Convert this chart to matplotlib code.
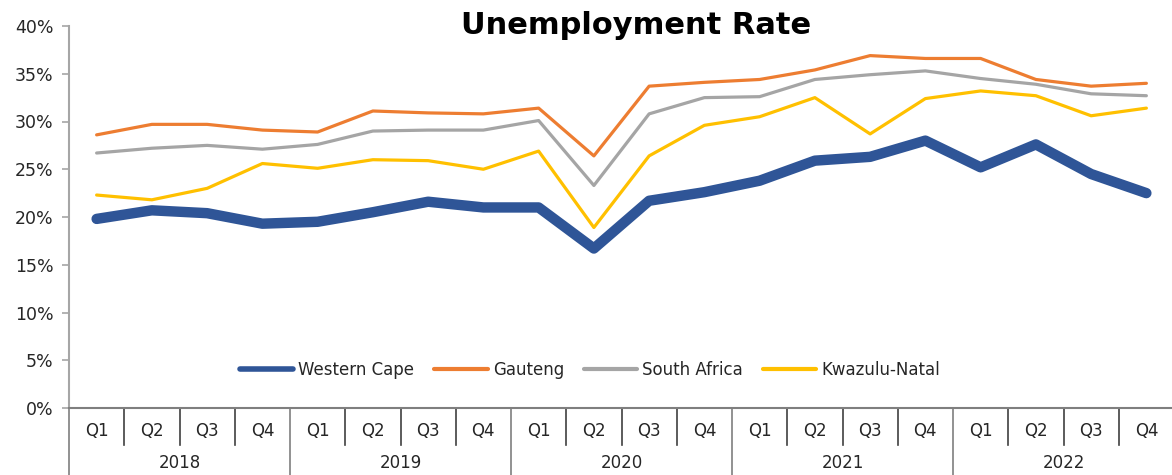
import numpy as np
import matplotlib.pyplot as plt

quarters = ["Q1", "Q2", "Q3", "Q4"]
years = ["2018", "2019", "2020", "2021", "2022"]

western_cape = [19.8, 20.7, 20.4, 19.3, 19.5, 20.5, 21.6, 21.0, 21.0, 16.7,
                21.7, 22.6, 23.8, 25.9, 26.3, 28.0, 25.2, 27.6, 24.5, 22.5]
gauteng = [28.6, 29.7, 29.7, 29.1, 28.9, 31.1, 30.9, 30.8, 31.4, 26.4,
           33.7, 34.1, 34.4, 35.4, 36.9, 36.6, 36.6, 34.4, 33.7, 34.0]
south_africa = [26.7, 27.2, 27.5, 27.1, 27.6, 29.0, 29.1, 29.1, 30.1, 23.3,
                30.8, 32.5, 32.6, 34.4, 34.9, 35.3, 34.5, 33.9, 32.9, 32.7]
kwazulu_natal = [22.3, 21.8, 23.0, 25.6, 25.1, 26.0, 25.9, 25.0, 26.9, 18.9,
                 26.4, 29.6, 30.5, 32.5, 28.7, 32.4, 33.2, 32.7, 30.6, 31.4]

plt.rcParams['font.family'] = ['DejaVu Sans']

W, H = 1172, 475
fig = plt.figure(figsize=(W / 100, H / 100), dpi=100)
left, right, top, bottom = 69, 1174, 26, 408
ax = fig.add_axes([left / W, 1 - bottom / H, (right - left) / W, (bottom - top) / H])

x = np.arange(len(western_cape))
ax.plot(x, western_cape, color="#2F5597", lw=7.5, solid_capstyle="round",
        solid_joinstyle="round", label="Western Cape", zorder=5)
ax.plot(x, gauteng, color="#ED7D31", lw=2.3, solid_capstyle="round", label="Gauteng")
ax.plot(x, south_africa, color="#A5A5A5", lw=2.3, solid_capstyle="round", label="South Africa")
ax.plot(x, kwazulu_natal, color="#FFC000", lw=2.3, solid_capstyle="round", label="Kwazulu-Natal")

ax.set_xlim(-0.5, len(x) - 0.5)
ax.set_ylim(0, 40)
ax.set_yticks(np.arange(0, 41, 5))
ax.set_yticklabels([f"{v}%" for v in range(0, 41, 5)], fontsize=12.5, color="#262626")
ax.tick_params(axis="y", length=5, color="#A6A6A6", width=1.2, pad=6)
ax.set_xticks([])

for s in ["top", "right"]:
    ax.spines[s].set_visible(False)
ax.spines["left"].set_color("#A6A6A6")
ax.spines["left"].set_linewidth(1.5)
ax.spines["bottom"].set_color("#7F7F7F")
ax.spines["bottom"].set_linewidth(1.5)

# two-level category axis: quarters on top row, years below
tr = ax.get_xaxis_transform()
q_depth = -(445 - bottom) / (bottom - top)
y_depth = -(H - bottom + 2) / (bottom - top)
for i in range(len(x)):
    ax.text(i, -(431 - bottom) / (bottom - top), quarters[i % 4], transform=tr,
            ha="center", va="center", fontsize=12, color="#262626")
for i in range(1, len(x)):
    if i % 4 == 0:
        continue
    ax.plot([i - 0.5, i - 0.5], [0, q_depth], transform=tr, color="#404040",
            lw=1.2, clip_on=False)
for j, yr in enumerate(years):
    ax.plot([4 * j - 0.5, 4 * j - 0.5], [0, y_depth], transform=tr, color="#7F7F7F",
            lw=1.2, clip_on=False)
    ax.text(4 * j + 1.5, -(463 - bottom) / (bottom - top), yr, transform=tr,
            ha="center", va="center", fontsize=12, color="#262626")

fig.text(636 / W, 1 - 26 / H, "Unemployment Rate", ha="center", va="center",
         fontsize=22, fontweight="bold", color="black")

leg = ax.legend(loc="center", bbox_to_anchor=(590 / W, 1 - 370 / H),
                bbox_transform=fig.transFigure, ncol=4, frameon=False,
                fontsize=12, handlelength=3.2, handletextpad=0.3, columnspacing=1.2)
for t in leg.get_texts():
    t.set_color("#262626")
leg.get_lines()[0].set_linewidth(4)
for ln in leg.get_lines()[1:]:
    ln.set_linewidth(3)

fig.savefig("out.png", dpi=100)
